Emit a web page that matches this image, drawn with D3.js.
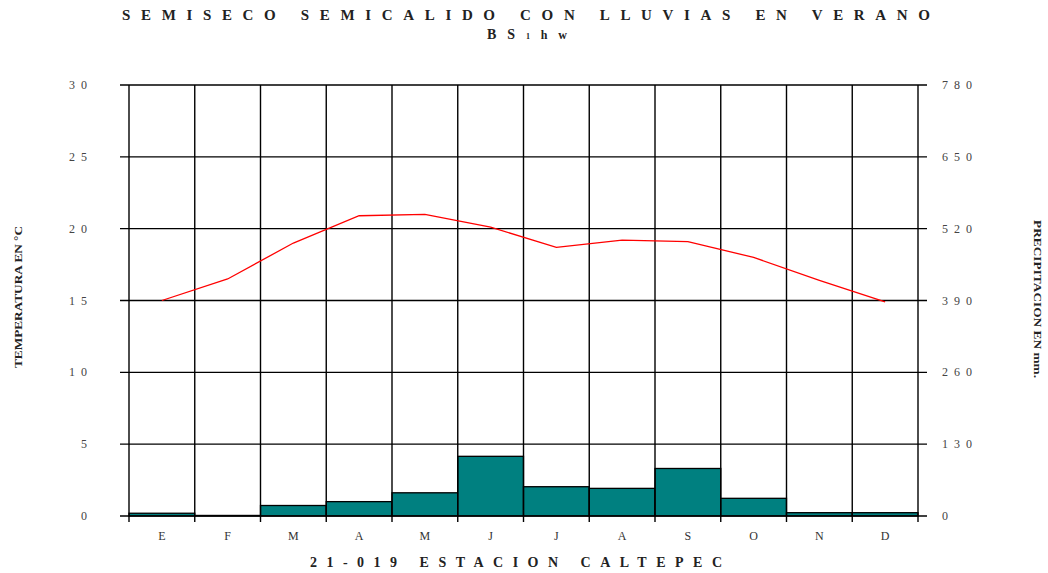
<!DOCTYPE html>
<html><head><meta charset="utf-8">
<script src="https://cdn.jsdelivr.net/npm/d3@7"></script>
<style>
body{margin:0;background:#fff;}
svg text{font-family:"Liberation Serif","DejaVu Serif",serif;fill:#222;}
</style></head>
<body><svg id="c" width="1048" height="573"></svg>
<script>
const months = ["E","F","M","A","M","J","J","A","S","O","N","D"];
const temperature = [15.0, 16.5, 19.0, 20.9, 21.0, 20.1, 18.7, 19.2, 19.1, 18.0, 16.4, 14.9];
const precipitation = [5, 1, 19, 26, 42, 108, 53, 50, 86, 32, 6, 6];
const tempTicks = [0, 5, 10, 15, 20, 25, 30];
const precTicks = [0, 130, 260, 390, 520, 650, 780];
const title = "SEMISECO SEMICALIDO CON LLUVIAS EN VERANO";
const station = "21-019 ESTACION CALTEPEC";

const svg = d3.select("#c");
const L = 129, R = 918, T = 85, B = 516;
const x = d3.scaleBand().domain(d3.range(12)).range([L, R]).paddingInner(0).paddingOuter(0);
const yT = d3.scaleLinear().domain([0, 30]).range([B, T]);
const yP = d3.scaleLinear().domain([0, 780]).range([B, T]);

// bars
svg.append("g").selectAll("rect").data(precipitation).join("rect")
  .attr("x", (d,i) => x(i)).attr("width", x.bandwidth())
  .attr("y", d => yP(d)).attr("height", d => B - yP(d))
  .attr("fill", "#008080").attr("stroke", "#000").attr("stroke-width", 1.3);

// horizontal grid
svg.append("g").selectAll("line").data(tempTicks).join("line")
  .attr("x1", L - 9).attr("x2", R + 9)
  .attr("y1", d => yT(d)).attr("y2", d => yT(d))
  .attr("stroke", "#000").attr("stroke-width", 1.4);

// vertical grid
const bounds = d3.range(13).map(i => i < 12 ? x(i) : R);
svg.append("g").selectAll("line").data(bounds).join("line")
  .attr("x1", d => d).attr("x2", d => d)
  .attr("y1", T).attr("y2", B + 6)
  .attr("stroke", "#000").attr("stroke-width", 1.4);

// temperature line
svg.append("path").datum(temperature)
  .attr("d", d3.line().x((d,i) => x(i) + x.bandwidth()/2).y(d => yT(d)))
  .attr("fill", "none").attr("stroke", "#ff0000").attr("stroke-width", 1.3);

// left tick labels
svg.append("g").selectAll("text").data(tempTicks).join("text")
  .attr("x", 93).attr("y", d => yT(d) + 4).attr("text-anchor", "end")
  .attr("font-size", 12).style("letter-spacing", "6px").style("fill", "#444")
  .text(d => String(d));
// right tick labels
svg.append("g").selectAll("text").data(precTicks).join("text")
  .attr("x", 942).attr("y", d => yP(d) + 4).attr("text-anchor", "start")
  .attr("font-size", 12).style("letter-spacing", "6px").style("fill", "#444")
  .text(d => String(d));
// month labels
svg.append("g").selectAll("text").data(months).join("text")
  .attr("x", (d,i) => x(i) + x.bandwidth()/2).attr("y", 540).attr("text-anchor", "middle")
  .attr("font-size", 12).style("fill", "#333").text(d => d);

// title
svg.append("text").attr("x", 122).attr("y", 20)
  .attr("font-size", 15).attr("font-weight", "bold")
  .attr("textLength", 808).attr("lengthAdjust", "spacing").text(title);
const sub = svg.append("text").attr("x", 487).attr("y", 39)
  .attr("font-size", 14).attr("font-weight", "bold")
  .attr("textLength", 80).attr("lengthAdjust", "spacing");
sub.append("tspan").text("BS");
sub.append("tspan").attr("font-size", 8).text("1");
sub.append("tspan").attr("font-size", 12).text("hw");

// bottom title
svg.append("text").attr("x", 310).attr("y", 567)
  .attr("font-size", 14).attr("font-weight", "bold")
  .attr("textLength", 412).attr("lengthAdjust", "spacing").text(station);

// axis titles
svg.append("text").attr("transform", "translate(22,368) rotate(-90)")
  .attr("font-size", 11).attr("font-weight", "bold")
  .attr("textLength", 142).attr("lengthAdjust", "spacingAndGlyphs").text("TEMPERATURA EN °C");
svg.append("text").attr("transform", "translate(1034,220) rotate(90)")
  .attr("font-size", 11).attr("font-weight", "bold")
  .attr("textLength", 158).attr("lengthAdjust", "spacingAndGlyphs").text("PRECIPITACION EN mm.");
</script></body></html>
